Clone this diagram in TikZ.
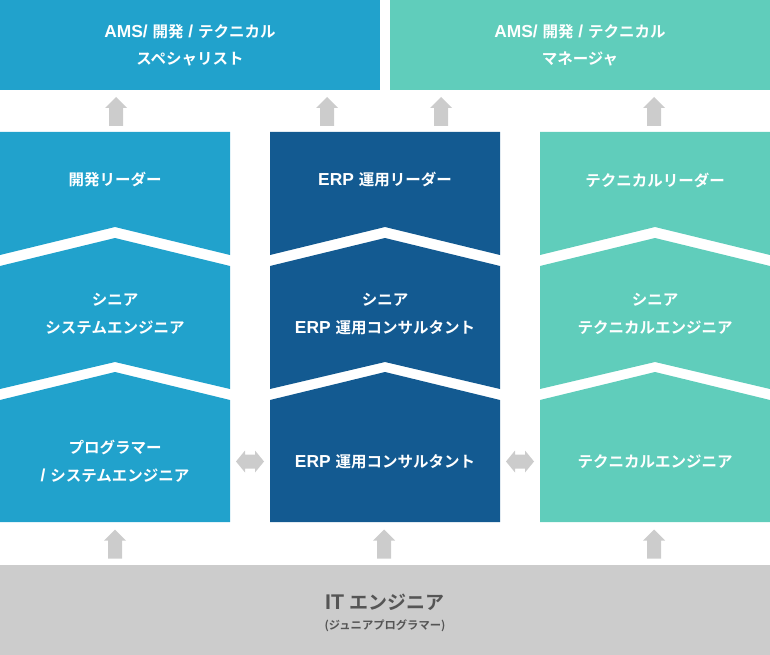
\documentclass[tikz,border=0pt]{standalone}
\usepackage{fontspec}
\setmainfont{Noto Sans CJK JP}[BoldFont={* Bold}]
\newfontfamily\lat{Liberation Sans}[Scale=1.12]
\definecolor{cblue}{HTML}{21A2CC}
\definecolor{cnavy}{HTML}{135A91}
\definecolor{cteal}{HTML}{60CDBB}
\definecolor{cgray}{HTML}{CCCCCC}
\definecolor{ctext}{HTML}{555555}
\tikzset{
  lbl/.style={text=white, font=\fontsize{15.5}{28}\selectfont\bfseries, align=center, inner sep=0pt},
  toplbl/.style={text=white, font=\fontsize{15.5}{27}\selectfont\bfseries, align=center, inner sep=0pt},
  uparr/.pic={\fill[cgray] (0,-14.5) -- (11,-3.5) -- (7,-3.5) -- (7,14.5) -- (-7,14.5) -- (-7,-3.5) -- (-11,-3.5) -- cycle;},
  dblarr/.pic={\fill[cgray] (-14,0) -- (-5,-11) -- (-5,-7) -- (5,-7) -- (5,-11) -- (14,0) -- (5,11) -- (5,7) -- (-5,7) -- (-5,11) -- cycle;}
}
\begin{document}
\begin{tikzpicture}[x=1pt,y=-1pt]
\useasboundingbox (0,0) rectangle (770,655);
% top boxes
\fill[cblue] (0,0) rectangle (380,90);
\fill[cteal] (390,0) rectangle (770,90);
\node[toplbl] (spec) at (190,45.5) {{\lat AMS/ }開発{\lat\ / }テクニカル\\スペシャリスト};
\node[toplbl] (mgr) at (580,45.5) {{\lat AMS/ }開発{\lat\ / }テクニカル\\マネージャ};
% columns
\foreach \x/\c in {0/cblue,270/cnavy,540/cteal}{
  \fill[\c] (\x,132) -- (\x+230,132) -- (\x+230,255) -- (\x+115,227) -- (\x,255) -- cycle;
  \fill[\c] (\x,266) -- (\x+115,238) -- (\x+230,266) -- (\x+230,389) -- (\x+115,362) -- (\x,389) -- cycle;
  \fill[\c] (\x,400) -- (\x+115,372) -- (\x+230,400) -- (\x+230,522) -- (\x,522) -- cycle;
}
\node[lbl] (a1) at (115,180) {開発リーダー};
\node[lbl] (a2) at (115,314) {シニア\\システムエンジニア};
\node[lbl] (a3) at (115,461.5) {プログラマー\\{\lat / }システムエンジニア};
\node[lbl] (b1) at (385,180) {{\lat ERP }運用リーダー};
\node[lbl] (b2) at (385,314) {シニア\\{\lat ERP }運用コンサルタント};
\node[lbl] (b3) at (385,461.5) {{\lat ERP }運用コンサルタント};
\node[lbl] (c1) at (655,180) {テクニカルリーダー};
\node[lbl] (c2) at (655,314) {シニア\\テクニカルエンジニア};
\node[lbl] (c3) at (655,461.5) {テクニカルエンジニア};
% bottom box
\fill[cgray] (0,565) rectangle (770,655);
\node[text=ctext, font=\fontsize{19}{20}\selectfont\bfseries, inner sep=0pt] (it) at (385,602.5) {{\lat IT }エンジニア};
\node[text=ctext, font=\fontsize{11.3}{12}\selectfont\bfseries, inner sep=0pt] (jr) at (385,626) {(ジュニアプログラマー)};
% arrows
\pic at (116,111.5) {uparr};
\pic at (327,111.5) {uparr};
\pic at (441,111.5) {uparr};
\pic at (654,111.5) {uparr};
\pic at (115,544) {uparr};
\pic at (384,544) {uparr};
\pic at (654,544) {uparr};
\pic at (250,461.5) {dblarr};
\pic at (520,461.5) {dblarr};
\end{tikzpicture}
\end{document}
